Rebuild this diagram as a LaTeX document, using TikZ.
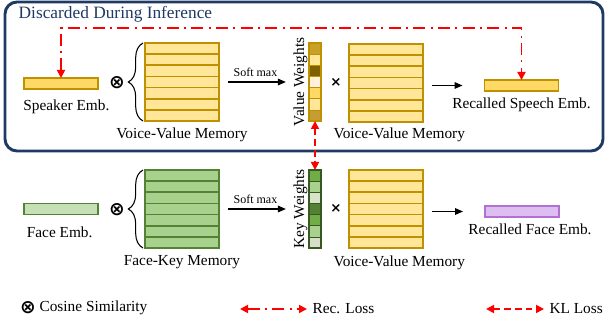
\documentclass[tikz,border=0pt]{standalone}
\usepackage{fontspec}
\setmainfont{Liberation Serif}
\newfontfamily\symfont{DejaVu Sans}
\usetikzlibrary{arrows.meta,positioning,calc,decorations.pathreplacing}
\definecolor{cnavy}{RGB}{31,56,100}
\definecolor{cgold}{RGB}{191,144,0}
\definecolor{cgoldfill}{RGB}{255,217,102}
\definecolor{cmemfill}{RGB}{255,230,153}
\definecolor{cgreen}{RGB}{84,130,53}
\definecolor{cdkgreen}{RGB}{56,87,35}
\definecolor{cgreenfill}{RGB}{169,209,142}
\definecolor{cfacefill}{RGB}{197,224,180}
\definecolor{cpurple}{RGB}{177,112,210}
\definecolor{cpurplefill}{RGB}{221,190,240}
\definecolor{closs}{RGB}{255,0,0}
\definecolor{cwa}{RGB}{201,160,40}
\definecolor{cwb}{RGB}{255,230,153}
\definecolor{cwc}{RGB}{127,96,0}
\definecolor{cwd}{RGB}{255,240,225}
\definecolor{cwe}{RGB}{255,217,102}
\definecolor{cwf}{RGB}{255,230,153}
\definecolor{cwg}{RGB}{196,158,50}
\definecolor{cka}{RGB}{112,173,71}
\definecolor{ckb}{RGB}{169,209,142}
\definecolor{ckc}{RGB}{216,228,200}
\definecolor{ckd}{RGB}{84,130,53}
\definecolor{cke}{RGB}{112,173,71}
\definecolor{ckf}{RGB}{169,209,142}
\definecolor{ckg}{RGB}{214,222,200}

\begin{document}
\begin{tikzpicture}[x=0.75pt, y=-0.75pt, font=\fontsize{11.5}{13}\selectfont,
  emb/.style={draw=#1, line width=1.2pt, minimum width=55.5pt, minimum height=8.25pt, inner sep=0pt, outer sep=0pt},
  mem/.style={draw=#1, line width=1.3pt, minimum width=55.5pt, minimum height=58.5pt, inner sep=0pt, outer sep=0pt},
  wcol/.style={minimum width=9pt, minimum height=58.5pt, inner sep=0pt, outer sep=0pt},
  lab/.style={inner sep=1pt},
  cossym/.style={inner sep=0pt, font=\symfont\bfseries\fontsize{14}{14}\selectfont},
  mulsym/.style={inner sep=0pt, font=\symfont\bfseries\fontsize{10}{10}\selectfont},
  flow/.style={draw=black, line width=0.8pt, -{Triangle[length=6pt,width=5pt]}},
  recloss/.style={draw=closs, line width=1.3pt, dash pattern=on 9pt off 4pt on 1.5pt off 4pt,
        {Triangle[length=6pt,width=6pt]}-{Triangle[length=6pt,width=6pt]}},
  klloss/.style={draw=closs, line width=1.3pt, dash pattern=on 5pt off 3pt,
        {Triangle[length=6pt,width=6pt]}-{Triangle[length=6pt,width=6pt]}}]
  \useasboundingbox (0,0) rectangle (610,324);
  \draw[cnavy, line width=2.2pt, rounded corners=9pt] (5,2) rectangle (603,151);
  \node[anchor=west, text=cnavy, font=\fontsize{13}{15}\selectfont] (title) at (14,14) {Discarded During Inference};

  \node[emb=cgold, fill=cgoldfill] (spk) at (61,83.5) {};
  \node[lab, below=7pt of spk, xshift=4pt] (spklab) {Speaker Emb.};
  \node[cossym] (otA) at (117,83) {⊗};
  \node[mem=cgold, fill=cmemfill] (vmA) at (182,82) {};
  \node[lab, below=4pt of vmA] (vmAlab) {Voice-Value Memory};
  \node[wcol] (vw) at (315,82) {};
  \node[lab, rotate=90, anchor=south] (vwlab) at (vw.west) {Value Weights};
  \node[mulsym] (tmA) at (336,82) {×};
  \node[mem=cgold, fill=cmemfill] (vmB) at (386,83) {};
  \node[lab, below=3.5pt of vmB, xshift=10pt] (vmBlab) {Voice-Value Memory};
  \node[emb=cgold, fill=cgoldfill] (rs) at (521.5,85.5) {};
  \node[lab, below=4pt of rs] (rslab) {Recalled Speech Emb.};

  \node[emb=cgreen, fill=cfacefill] (face) at (61,209) {};
  \node[lab, below=8pt of face, xshift=-1pt] (facelab) {Face Emb.};
  \node[cossym] (otB) at (117,210) {⊗};
  \node[mem=cgreen, fill=cgreenfill] (km) at (182,209) {};
  \node[lab, below=4.5pt of km] (kmlab) {Face-Key Memory};
  \node[wcol] (kw) at (315,209) {};
  \node[lab, rotate=90, anchor=south] (kwlab) at (kw.west) {Key Weights};
  \node[mulsym] (tmB) at (336,208) {×};
  \node[mem=cgold, fill=cmemfill] (vmC) at (386,209) {};
  \node[lab, below=4.5pt of vmC, xshift=10pt] (vmClab) {Voice-Value Memory};
  \node[emb=cpurple, fill=cpurplefill] (rf) at (522,211.5) {};
  \node[lab, below=4pt of rf, xshift=6pt] (rflab) {Recalled Face Emb.};

  \foreach \m/\c in {vmA/cgold, vmB/cgold, km/cgreen, vmC/cgold}
    \foreach \k in {1,...,6}
      \draw[\c, line width=1.3pt] ($(\m.north west)!{\k/7}!(\m.south west)$) -- ($(\m.north east)!{\k/7}!(\m.south east)$);
  \foreach \m in {vmA, km}
    \draw[decorate, decoration={brace, amplitude=11pt}, line width=0.8pt]
      ([xshift=-1.5pt]\m.south west) -- ([xshift=-1.5pt]\m.north west);

  \foreach \c [count=\k] in {cwa,cwb,cwc,cwd,cwe,cwf,cwg}
    \draw[fill=\c, draw=cgold, line width=0.4pt] ($(vw.north west)!{(\k-1)/7}!(vw.south west)$) rectangle ($(vw.north east)!{\k/7}!(vw.south east)$);
  \draw[cgold, line width=1.2pt] (vw.north west) rectangle (vw.south east);
  \foreach \c [count=\k] in {cka,ckb,ckc,ckd,cke,ckf,ckg}
    \draw[fill=\c, draw=cdkgreen, line width=0.4pt] ($(kw.north west)!{(\k-1)/7}!(kw.south west)$) rectangle ($(kw.north east)!{\k/7}!(kw.south east)$);
  \draw[cdkgreen, line width=1.2pt] (kw.north west) rectangle (kw.south east);

  \draw[flow, shorten <=6.75pt, shorten >=4.5pt] (vmA.east) -- node[above, font=\fontsize{9}{10}\selectfont] (smA) {Soft max} (vwlab.north);
  \draw[flow, shorten <=6.75pt, shorten >=4.5pt] (km.east) -- node[above, font=\fontsize{9}{10}\selectfont] (smB) {Soft max} (kwlab.north);
  \draw[flow, shorten <=6.75pt, shorten >=16.5pt] (vmB.east |- rs.west) -- (rs.west);
  \draw[flow, shorten <=6.75pt, shorten >=16.5pt] (vmC.east |- rf.west) -- (rf.west);

  \coordinate (rail) at (0,28);
  \draw[recloss] (spk.north) -- (spk.north |- rail) -- (rs.north |- rail) -- (rs.north);
  \draw[klloss] (vw.south) -- (kw.north);

  \node[cossym] (otL) at (28,308) {⊗};
  \node[lab, anchor=west] (coslab) at (38,308) {Cosine Similarity};
  \node[lab, anchor=west] (reclab) at (311,309) {Rec. Loss};
  \coordinate (recL) at (240,309);
  \draw[recloss, shorten >=3pt] (recL) -- (reclab.west);
  \node[lab, anchor=west] (kllab) at (548,309) {KL Loss};
  \coordinate (klL) at (486,309);
  \draw[klloss, shorten >=3pt] (klL) -- (kllab.west);
\end{tikzpicture}
\end{document}
